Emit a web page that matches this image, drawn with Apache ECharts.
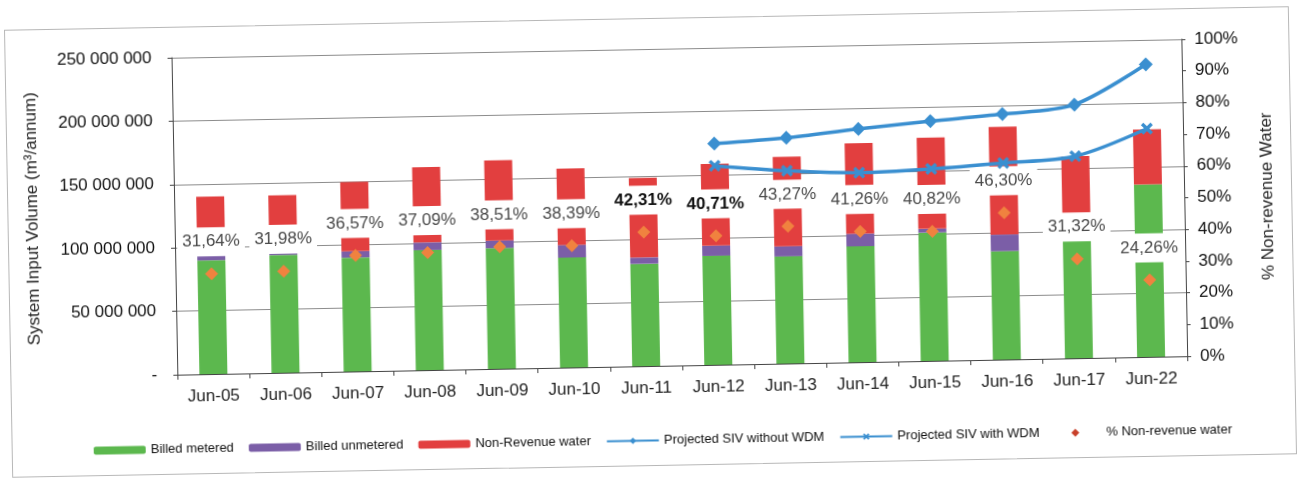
<!DOCTYPE html>
<html>
<head>
<meta charset="utf-8">
<title>System Input Volume</title>
<script src="https://cdn.jsdelivr.net/npm/echarts@6/dist/echarts.min.js"></script>
<style>
  html, body { margin: 0; padding: 0; background: #fff; }
  #chart {
    position: absolute;
    left: 8px;
    top: 18px;
    width: 1285px;
    height: 448px;
    border: 1px solid #b8b8b8;
    box-sizing: border-box;
    transform: rotate(-1.05deg);
  }
</style>
</head>
<body>
<div id="chart"></div>
<script>
// categories (financial years)
const categories = ['Jun-05', 'Jun-06', 'Jun-07', 'Jun-08', 'Jun-09', 'Jun-10', 'Jun-11',
  'Jun-12', 'Jun-13', 'Jun-14', 'Jun-15', 'Jun-16', 'Jun-17', 'Jun-22']

// volumes in m3/annum
const billedMetered = [89700000, 92900000, 89800000, 94700000, 95200000, 86700000, 80700000,
  86000000, 84500000, 91400000, 101200000, 85500000, 109400000, 136000000]
const billedUnmetered = [6000000, 2000000, 5000000, 6000000, 6000000, 10000000, 5000000,
  8000000, 8000000, 10000000, 3000000, 13000000, 0, 0]
const nonRevenue = [44300000, 45100000, 54700000, 59300000, 63300000, 60300000, 62800000,
  64600000, 70500000, 71300000, 71800000, 85000000, 49900000, 43500000]
const sivWithoutWdm = [null, null, null, null, null, null, null,
  174400000, 178000000, 184000000, 189000000, 193600000, 200000000, 230700000]
const sivWithWdm = [null, null, null, null, null, null, null,
  157000000, 152000000, 149400000, 151400000, 155000000, 159300000, 180000000]
// % non-revenue water
const nrwPct = [31.64, 31.98, 36.57, 37.09, 38.51, 38.39, 42.31, 40.71, 43.27, 41.26, 40.82, 46.30, 31.32, 24.26]
const boldLabels = ['Jun-11', 'Jun-12']

const fontFamily = '"Liberation Sans", Arial, sans-serif'
const blue = '#3a8fd0'
// diamond centred in the legend slot (empty points keep the slot width)
const legendDiamond = 'path://M0,0 L0,0 Z M52,10 L52,10 Z M26,0 L31,5 L26,10 L21,5 Z'

function spaced (v) {
  if (v === 0) return '-'
  return String(v).replace(/\B(?=(\d{3})+(?!\d))/g, ' ')
}

const chart = echarts.init(document.getElementById('chart'))
chart.setOption({
  animation: false,
  textStyle: { fontFamily: fontFamily },
  grid: { left: 166, right: 107, top: 30, bottom: 99 },
  legend: {
    left: 76,
    top: 410,
    itemWidth: 52,
    itemHeight: 8,
    itemGap: 15,
    textStyle: { fontSize: 13, color: '#111', fontFamily: fontFamily },
    data: ['Billed metered', 'Billed unmetered', 'Non-Revenue water',
      'Projected SIV without WDM', 'Projected SIV with WDM',
      { name: '% Non-revenue water', icon: legendDiamond, itemStyle: { color: '#c8402a' } }]
  },
  xAxis: {
    type: 'category',
    data: categories,
    axisLine: { lineStyle: { color: '#444' } },
    axisTick: { show: true, length: 5, lineStyle: { color: '#444' } },
    axisLabel: { fontSize: 17, color: '#222', margin: 14, interval: 0 }
  },
  yAxis: [
    {
      type: 'value',
      min: 0,
      max: 250000000,
      interval: 50000000,
      name: 'System Input Volume (m³/annum)',
      nameLocation: 'middle',
      nameGap: 133,
      nameRotate: 90,
      nameTextStyle: { fontSize: 17, color: '#222' },
      axisLine: { show: true, lineStyle: { color: '#444' } },
      axisTick: { show: true, length: 4, lineStyle: { color: '#444' } },
      axisLabel: { fontSize: 17, color: '#111', margin: 20, formatter: spaced },
      splitLine: { lineStyle: { color: '#8c8c8c' } }
    },
    {
      type: 'value',
      min: 0,
      max: 100,
      interval: 10,
      name: '% Non-revenue Water',
      nameLocation: 'middle',
      nameGap: 75,
      nameRotate: 90,
      nameTextStyle: { fontSize: 17, color: '#222' },
      axisLine: { show: true, lineStyle: { color: '#444' } },
      axisTick: { show: true, length: 4, lineStyle: { color: '#444' } },
      axisLabel: { fontSize: 17, color: '#111', margin: 13, formatter: '{value}%' },
      splitLine: { show: false }
    }
  ],
  series: [
    {
      name: 'Billed metered',
      type: 'bar',
      stack: 'siv',
      barWidth: 28,
      itemStyle: { color: '#5cb84e' },
      data: billedMetered
    },
    {
      name: 'Billed unmetered',
      type: 'bar',
      stack: 'siv',
      itemStyle: { color: '#7b5ea7' },
      data: billedUnmetered
    },
    {
      name: 'Non-Revenue water',
      type: 'bar',
      stack: 'siv',
      itemStyle: { color: '#e23f3f' },
      data: nonRevenue
    },
    {
      name: 'Projected SIV without WDM',
      type: 'line',
      z: 5,
      smooth: 0.3,
      symbol: 'diamond',
      symbolSize: 14,
      lineStyle: { color: blue, width: 3.5 },
      itemStyle: { color: blue },
      data: sivWithoutWdm
    },
    {
      name: 'Projected SIV with WDM',
      type: 'line',
      z: 5,
      smooth: 0.3,
      symbol: 'path://M0,2 L2,0 L5,3 L8,0 L10,2 L7,5 L10,8 L8,10 L5,7 L2,10 L0,8 L3,5 Z',
      symbolSize: 12,
      lineStyle: { color: blue, width: 3.5 },
      itemStyle: { color: blue },
      data: sivWithWdm
    },
    {
      name: '% Non-revenue water',
      type: 'scatter',
      yAxisIndex: 1,
      z: 4,
      symbol: 'diamond',
      symbolSize: 13,
      itemStyle: { color: '#f0823f', opacity: 1 },
      label: {
        show: true,
        position: 'top',
        distance: 11,
        fontSize: 17,
        color: '#4a4a4a',
        opacity: 1,
        backgroundColor: '#fff',
        padding: [6, 5],
        formatter: p => p.value.toFixed(2).replace('.', ',') + '%'
      },
      data: nrwPct.map((v, i) => boldLabels.indexOf(categories[i]) >= 0
        ? { value: v, label: { fontWeight: 'bold', color: '#111' } }
        : v)
    }
  ]
})
</script>
</body>
</html>
